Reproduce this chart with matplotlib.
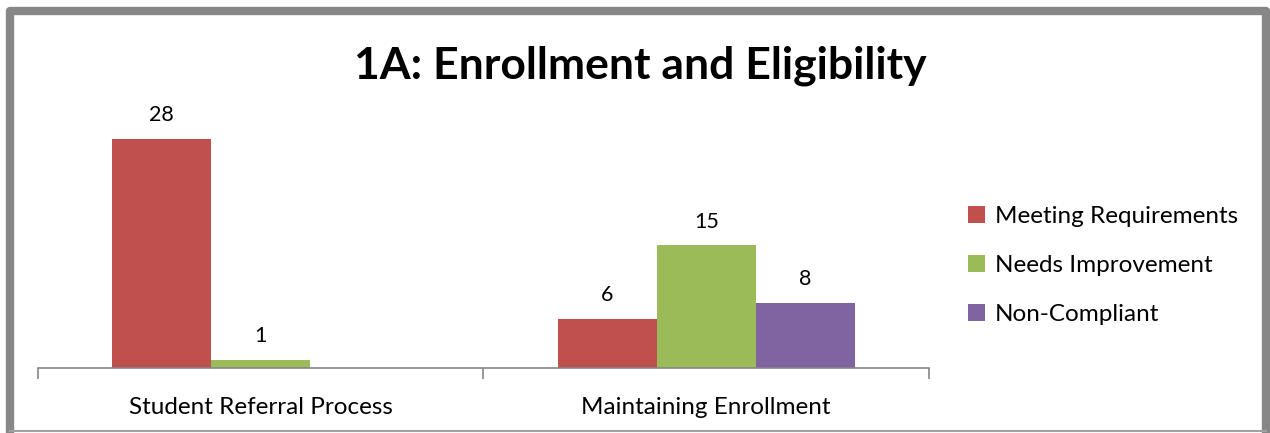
import numpy as np
import matplotlib.pyplot as plt
from matplotlib.lines import Line2D

plt.rcParams['font.family'] = ['Lato', 'DejaVu Sans']

categories = ['Student Referral Process', 'Maintaining Enrollment']
series_names = ['Meeting Requirements', 'Needs Improvement', 'Non-Compliant']
meeting = [28, 6]
needs = [1, 15]
non_compliant = [0, 8]
colors = ['#c0504d', '#9bbb59', '#8064a2']

fig = plt.figure(figsize=(12.7, 4.33), dpi=100)
ax = fig.add_axes([0.0299, 0.1501, 0.7016, 0.605])

x = np.arange(len(categories))
w = 0.222
for i, (vals, name) in enumerate(zip([meeting, needs, non_compliant], series_names)):
    bars = ax.bar(x + (i - 1) * w, vals, w, color=colors[i], label=name)
    for b, v in zip(bars, vals):
        if v > 0:
            ax.text(b.get_x() + b.get_width() / 2, v + 1.65, str(v),
                    ha='center', va='bottom', fontsize=15.5)

ax.set_xlim(-0.5, 1.5)
ax.set_ylim(0, 32)
for s in ['top', 'right', 'left']:
    ax.spines[s].set_visible(False)
ax.spines['bottom'].set_color('#868686')
ax.spines['bottom'].set_linewidth(1.2)
ax.set_yticks([])
ax.set_xticks(x)
ax.set_xticklabels(categories, fontsize=17.5)
ax.tick_params(axis='x', which='major', length=0, pad=21)
ax.set_xticks([-0.5, 0.5, 1.5], minor=True)
ax.tick_params(axis='x', which='minor', length=8, color='#868686', width=1.2)

fig.text(0.504, 0.848, '1A: Enrollment and Eligibility', ha='center', va='center',
         fontsize=32, fontweight='bold')

fig.legend(loc='center left', bbox_to_anchor=(0.745, 0.386), frameon=False,
           fontsize=17.5, handlelength=0.7, handleheight=0.7, handletextpad=0.4,
           labelspacing=1.15)

# frame: thick top/left/right, thin bottom
gray = '#878787'
fig.lines.append(Line2D([0.0079, 0.0079, 0.9972, 0.9972], [0.003, 0.975, 0.975, 0.003],
                        transform=fig.transFigure, color=gray, linewidth=6))
fig.lines.append(Line2D([0.0079, 0.9972], [0.004, 0.004],
                        transform=fig.transFigure, color='#a0a0a0', linewidth=1.5))

fig.savefig('out.png', dpi=100)
